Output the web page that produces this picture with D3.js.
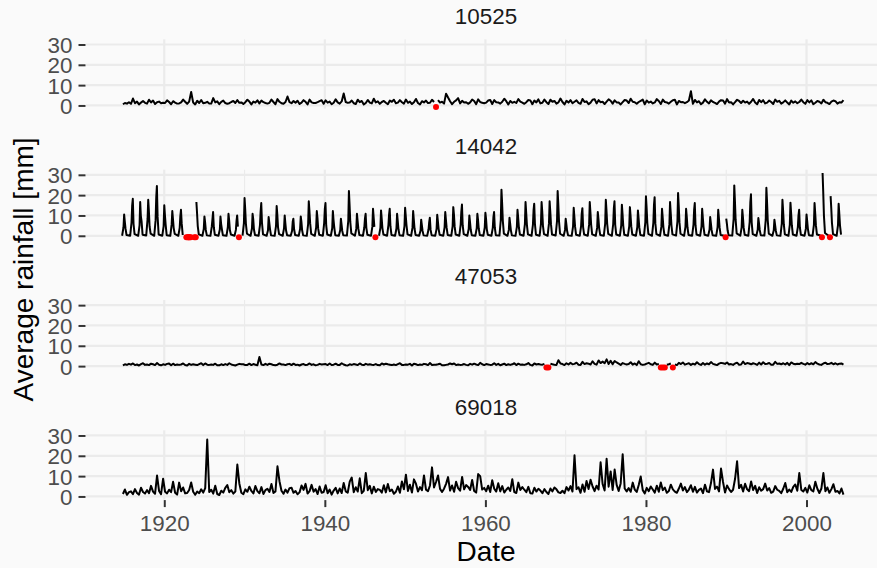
<!DOCTYPE html>
<html lang="en">
<head>
<meta charset="UTF-8">
<title>Average rainfall by station</title>
<script src="https://d3js.org/d3.v7.min.js"></script>
<style>
  body { margin: 0; background: #fafafa; }
  svg { display: block; font-family: "Liberation Sans", Arial, sans-serif; }
</style>
</head>
<body>
<div id="chart"></div>
<script>
// stations shown as facets, top to bottom
const stations = ["10525", "14042", "47053", "69018"];

// one row per year 1915..2004; null = missing month (drawn as red point at 0)
const firstYear = 1915;

// readings at [Y-0.15, Y+0.1, Y+0.35, Y+0.6]
const rain10525 = [
  [0.6,1.2,0.9,1.6],[0.8,3.4,1.1,1.9],[0.5,1.4,2.2,1.3],[0.9,2.8,1.5,2.4],[0.7,1.6,1.9,1.1],
  [1.3,1.2,2.5,1.7],[0.6,2.1,1.4,0.9],[1,1.5,2.9,1.8],[0.8,1.9,6.6,1.4],[0.5,2.3,1.2,2.7],
  [1.1,1.3,1.8,1],[0.9,3.6,1.5,2],[0.6,1.8,2.4,1.2],[0.8,1.1,1.7,2.2],[1.2,2.6,1.3,1.5],
  [0.7,1.6,2.8,1.9],[0.5,1.9,1.4,2.5],[1,2.4,1.6,1.2],[0.9,1.3,2.9,1.7],[0.6,3.1,1.8,1.1],
  [0.8,1.7,4.4,1.6],[1.1,2.2,1.3,2.3],[0.7,1.4,2.6,1.8],[0.5,2.9,1.5,1.2],[1.2,1.6,2.1,2.6],
  [0.8,2.5,1.4,1.9],[0.6,1.3,3,1.5],[0.9,2,5.9,1.7],[1.3,1.5,2.4,1.1],[0.7,2.8,1.6,2.2],
  [0.5,1.2,2.7,1.4],[1,3.3,1.5,2],[0.8,1.7,2.2,1.3],[0.6,2.4,1.8,2.8],[1.1,1.4,2.6,1.6],
  [0.9,2.9,1.3,1.9],[0.7,1.6,3.2,1.2],[0.5,2.1,1.5,2.4],[1.2,1.3,2.8,1.7],[null,2.6,1.4,1.8],
  [0.9,5.8,3.9,2.1],[0.6,1.8,2.5,3.6],[1,2.3,1.4,1.6],[0.8,1.5,2.9,2.2],[0.6,3,1.7,1.3],
  [1.1,1.4,2.4,2.7],[0.7,2.6,1.6,1.5],[0.9,1.8,3.3,2.1],[0.5,2.2,1.3,1.8],[1.2,3.1,1.9,1.4],
  [0.8,1.6,2.7,2.5],[0.6,2.4,1.5,3],[1,1.3,2.9,1.6],[0.7,2.8,1.8,2.2],[0.9,1.5,3.4,1.7],
  [0.5,2.3,1.4,2.6],[1.1,1.8,2.5,1.3],[0.8,3.2,1.7,2],[0.6,1.4,2.8,3.1],[1,2.6,1.6,1.8],
  [0.7,1.9,3,2.3],[0.9,2.5,1.5,1.4],[0.5,1.6,2.7,2.4],[1.2,3.3,1.8,1.6],[0.8,1.7,2.3,2.9],
  [0.6,2.4,1.4,1.9],[1,1.5,3.1,2.2],[0.7,2.9,1.7,1.5],[0.9,1.8,2.6,2.8],[0.5,2.2,1.6,1.7],
  [1.1,1.6,2.4,7],[0.8,2.7,1.5,2.1],[0.6,1.4,3,1.8],[1,2.5,1.7,1.3],[0.7,1.9,2.6,2.4],
  [0.9,3.1,1.5,1.6],[0.5,1.6,2.8,2.2],[1.2,2.3,1.4,1.9],[0.8,1.8,3.2,1.5],[0.6,2.7,1.6,2.6],
  [1,1.4,2.4,1.7],[0.7,2.9,1.8,2.3],[0.9,1.5,2.5,1.4],[0.5,2.4,1.3,2],[1.1,1.7,2.9,1.6],
  [0.8,2.6,1.5,2.5],[0.6,1.3,2.2,1.8],[1,2.8,1.6,1.3],[0.7,1.9,2.4,2.1],[0.9,1.6,1.4,2.6]
];

// wet season readings at [Oct, Dec, Jan, Feb, Mar, Apr] = [Y-0.25, Y-0.08, Y, Y+0.08, Y+0.17, Y+0.3]
const rain14042 = [
  [0,4.2,10.5,7.1,3.6,0.4],[0,6.5,14.8,18.2,5.9,0.8],[0,5.1,16.6,9.8,7.2,0.5],[0.1,8.3,17.7,12.4,4.6,1.1],[0,7.7,18.9,24.5,9.3,0.6],
  [0,4.8,15,10.2,5.5,0.3],[0,5.6,12.2,8.4,3.9,0.9],[0,3.9,9.6,12.8,6.1,0.4],[null,null,null,null,null,null],[null,null,16.6,11.3,4.8,0.7],
  [0,3.3,9.5,6.8,2.9,0.2],[0,4.6,8.1,11.7,4.2,0.5],[0,3.1,9.5,5.9,3.4,0.3],[0,4.4,10.8,7.6,2.8,0.6],[0,2.9,7.3,10,4.5,null],
  [0.1,6.2,18.6,13.1,5.7,1],[0,3.6,10.8,8.2,3.1,0.4],[0,5.3,11.9,16.1,6.4,0.7],[0,2.7,9.2,6.5,3.3,0.2],[0,4.9,14.6,10.4,4.1,0.8],
  [0,3.8,10,6.3,2.6,0.3],[0,2.5,6.9,8.4,3.2,0.4],[0,3.4,9.5,7,2.7,0.2],[0,5.8,17,12.3,6.2,0.9],[0,4.1,12.2,8.8,3.5,0.5],
  [0,6.4,13.2,16.1,5.1,0.6],[0,3.7,12.2,7.9,4.3,0.3],[0,2.8,8.4,5.6,2.4,0.2],[0.1,7.4,22,15.3,6.8,1.2],[0,3.5,10.8,7.4,3.6,0.4],
  [0,4.2,8.6,10.8,3.9,0.5],[0,4.5,13.3,9.1,4.4,null],[0,3.9,12.5,8.6,3.8,0.6],[0,5.2,10.4,13.3,4.7,0.4],[0,3.6,10.8,7.3,3.2,0.3],
  [0,4.7,13.8,9.7,5.3,0.7],[0,4,12.2,8.1,3.7,0.4],[0,2.6,7.9,5.4,2.5,0.2],[0,3.2,6.7,8.9,3,0.3],[0,3.4,10.3,7.2,3.4,0.5],
  [0,4.3,11.7,8,4,0.4],[0,4.8,14.1,10.6,4.6,0.6],[0,5.5,11.8,15.4,5.2,0.8],[0,3.3,10,6.9,3.1,0.3],[0,3.7,10.8,7.8,3.6,0.4],
  [0,4.1,11.3,8.3,3.3,0.5],[0,3.9,9.2,11.7,4.1,0.3],[0.1,7.9,22.7,16.2,7.4,1.1],[0,2.9,8.9,6.1,2.8,0.2],[0,4.4,12.8,9,4.2,0.6],
  [0,5.7,16.6,11.4,5.4,0.7],[0,5.4,12.6,15.8,5.8,0.5],[0,5.9,16.6,11.9,4.9,0.8],[0,6.1,17,12,5.6,0.6],[0.1,7.2,22,15.6,7.1,1],
  [0,2.9,8.4,5.8,2.6,0.2],[0,4.6,13.8,9.4,4.5,0.5],[0,4.8,10.9,13.6,4.3,0.6],[0,5.6,16.6,11.7,5.5,0.7],[0,4,11.7,8.3,3.8,0.4],
  [0,6,17.7,12.6,5.9,0.9],[0,5.8,13.5,17,5.4,0.6],[0,5.1,15.3,10.8,5,0.5],[0,4.7,14.1,9.9,4.6,0.6],[0,4.2,12.5,8.7,4.1,0.4],
  [0,6.6,19.4,13.8,6.3,0.9],[0,6.3,15.2,19,6.1,0.8],[0,4.5,13.3,9.2,4.3,0.5],[0,5.6,16.6,11.5,5.3,0.7],[0.1,7.1,21,14.9,6.7,1],
  [0,4.4,13.3,9.4,4.2,0.4],[0,5.5,12.8,16.1,5.2,0.6],[0,4.6,13.3,9,4.4,0.5],[0,3.1,9.2,6.4,3,0.3],[0,4.3,12.8,8.9,4.1,0.4],
  [0,null,8.4,6,2.7,0.2],[0.1,8.2,24.8,17.4,7.8,1.2],[0,4.3,12.8,9.1,4,0.5],[0,6.9,16.3,20.4,6.5,0.8],[0,3,8.7,6.2,2.9,0.3],
  [0.1,7.8,23.6,16.8,7.5,1.1],[0,2.7,7.9,5.5,2.6,0.2],[0,6,17.7,12.5,5.7,0.7],[0,5.5,16.3,11.3,5.2,0.6],[0,4.3,10.1,12.8,4.2,0.5],
  [0,3.5,10.5,7.4,3.4,0.3],[0,5.4,16.1,11.2,5.1,0.6],[0.1,null,30.9,21.6,9.8,1.4],[0,null,19.5,13.7,6.2,0.8],[0,5.3,15.8,11,5,0.6]
];

// readings at [Y-0.15, Y+0.1, Y+0.35, Y+0.6]
const rain47053 = [
  [0.4,0.9,0.6,1.1],[0.7,1.3,0.5,0.8],[0.3,1,1.4,0.6],[0.8,0.5,1.2,0.9],[0.5,1.5,0.7,0.4],
  [0.9,0.6,1.1,1.3],[0.4,1.2,0.5,0.8],[0.6,0.8,1.3,0.5],[0.3,1.1,0.6,0.9],[0.7,0.5,1,1.4],
  [0.5,1.3,0.7,0.6],[0.8,0.6,1.2,0.4],[0.4,0.9,0.5,1],[0.6,1.4,0.8,0.5],[0.3,0.7,1.1,0.9],
  [0.9,0.5,0.6,1.2],[0.5,1,0.7,0.4],[4.5,0.8,0.5,1.1],[0.6,1.2,0.9,0.5],[0.4,0.7,1.3,0.8],
  [0.8,0.5,0.9,1.1],[0.5,1.2,0.6,0.7],[0.3,0.8,1,0.5],[0.7,1.3,0.6,0.9],[0.4,0.6,1.1,0.8],
  [0.9,1,0.5,1.3],[0.5,0.7,1.2,0.6],[0.6,1.4,0.8,0.4],[0.3,0.9,0.6,1],[0.8,0.5,1.3,0.7],
  [0.5,1.1,0.7,0.9],[0.7,0.6,1,0.5],[0.4,1.3,0.8,1.2],[0.9,0.7,0.5,0.8],[0.5,1,1.4,0.6],
  [0.6,0.8,0.7,1.1],[0.3,1.2,0.9,0.5],[0.8,0.6,1.1,0.9],[0.5,1.5,0.6,0.7],[0.7,0.9,1.2,0.4],
  [0.4,0.6,0.8,1.3],[0.9,1.3,0.5,0.8],[0.6,0.7,1,0.6],[0.4,1.1,0.7,1.2],[0.8,0.5,1.6,0.9],
  [0.5,1,0.8,0.6],[0.7,1.4,0.6,1.1],[0.4,0.8,1.2,0.5],[0.9,0.6,0.9,1.4],[0.5,1.2,0.7,0.8],
  [0.6,0.9,1.5,0.6],[0.3,1.3,0.8,1],[0.8,0.7,1.1,null],[null,1.2,0.9,0.7],[0.6,2.9,1.3,1],
  [0.5,1.4,0.8,1.6],[0.9,1.1,1.7,0.7],[0.6,2.1,1,1.4],[1.2,0.8,2.4,1.1],[0.7,2.8,1.5,2.2],
  [1.4,3.3,1,2.6],[0.9,2.5,1.8,1.2],[0.6,1.5,1.1,0.8],[1,1.9,0.7,1.3],[0.5,2.4,0.9,0.6],
  [0.8,1.2,1.6,0.9],[0.6,1.7,0.8,1],[null,null,null,0.7],[0.9,1.3,null,0.8],[0.5,1.6,1,1.8],
  [0.7,1.1,1.4,0.6],[1.2,0.8,1.9,1],[0.6,1.5,0.7,1.3],[0.9,2,1.1,0.8],[0.5,1.2,1.6,1.4],
  [1.1,1.8,0.8,1],[0.6,1.3,1.7,0.7],[0.8,2.2,1,1.5],[1.3,0.9,1.4,1.1],[0.6,1.7,0.8,1.9],
  [1,1.2,1.5,0.7],[0.7,2.1,1.1,1.3],[0.9,1.4,0.8,1.6],[0.5,1.8,1.2,0.9],[1.2,1,1.6,1.1],
  [0.7,1.5,0.9,1.4],[0.9,2,1.2,0.8],[0.6,1.3,1.7,1],[1.1,1.6,0.9,1.4],[0.8,1.2,1.3,0.7]
];

// readings at [Y-0.15, Y+0.1, Y+0.35, Y+0.6]
const rain69018 = [
  [1.2,3.4,0.8,2.1],[2.5,1.1,3.6,1.7],[0.9,4.3,2.2,1.4],[3.1,1.6,5.2,2.4],[1.3,10.3,2.7,1.1],
  [8.7,2.3,1.5,3.3],[2.1,7.2,1.8,0.9],[6.8,2.6,4.4,1.5],[1.7,3.2,6.9,2.3],[0.8,2.4,1.6,3.5],
  [1.9,4.1,28,2.2],[3.3,1.4,5.3,1.2],[0.7,2.8,1.9,4.2],[5.6,2.1,3.1,1.4],[2.4,15.7,6.4,1.8],
  [1.1,3.5,2.3,4.8],[2.7,1.5,5.1,2.6],[1.6,4.6,1.2,3.1],[3.8,2.2,6.1,1.7],[2.5,14.8,7.5,2.8],
  [1.3,3.4,1.9,4.1],[4.3,1.8,2.7,1.1],[2,5.4,3.2,6.2],[1.4,2.6,5.7,2.3],[3.6,1.2,4.9,1.8],
  [2.2,5.5,1.6,3.4],[0.9,2.9,4.2,1.5],[3.9,1.7,6.6,2.5],[1.8,7.3,9.3,2.1],[4.5,2.4,8.9,1.6],
  [2.7,11.5,3.1,5.2],[1.5,4.8,2.2,3.6],[3.2,1.9,5.5,2],[6.1,2.6,3.4,1.3],[2.3,4.9,1.8,7.4],
  [3.5,10.7,2.7,5.8],[1.9,8.4,6.3,2.4],[4.6,3.1,10.3,3.3],[2.6,5.4,14.3,4.4],[7.1,10.3,3.7,2.2],
  [3.8,6.2,9.5,2.9],[5.4,2.3,7.2,4.1],[2.8,9.6,3.5,5.6],[4.7,3.2,8.1,2.7],[1.9,11,10,3.4],
  [4.2,2.6,5.3,2.2],[8,3.8,2.4,6.5],[2.5,5.1,1.9,3.3],[4.4,2.7,8.5,2.1],[1.7,6.8,3.2,4.6],
  [3.3,2.1,4.7,1.6],[1.4,4.3,2.4,3.8],[2.9,1.6,3.6,2.2],[1.2,3.9,2.5,4.4],[3.5,2,1.7,2.8],
  [1.6,4.6,2.9,5.1],[2.4,20.3,3.6,4.5],[1.8,5.9,2.3,7.6],[3.7,8.2,4.9,2.6],[5.3,3.4,16.8,6.2],
  [2.9,18.5,4.8,12.3],[3.2,13.2,5.7,2.7],[6.4,20.7,3.9,2.5],[4.1,2.3,6.8,3.4],[2.2,5.6,9.8,3.1],
  [1.5,4.2,2.6,4.9],[3.4,1.9,5.3,2.3],[6.9,3.1,4.4,1.8],[2.7,5.8,3.5,2.4],[1.8,3.9,6.3,2.9],
  [4.6,2.1,3.4,5.5],[2.3,4.7,1.9,3.2],[3.9,1.6,5.8,2.5],[2.1,6.6,13.2,3.7],[4.8,2.5,13.7,7.1],
  [1.9,5.4,3.6,2.2],[3.3,8.7,17.3,4.1],[5.7,2.4,6.2,3.5],[2.6,7.4,3.1,5.2],[1.7,4.5,2.8,3.6],
  [6.3,2.9,4.1,1.8],[2.4,5.1,3.3,2.7],[1.6,3.8,6.6,2.1],[3.4,2.2,4.7,5.9],[2.8,11.5,3.2,2.4],
  [4.2,1.9,5.5,3.1],[2.5,7.2,3.8,1.7],[3.9,11.5,2.6,4.4],[1.8,3.6,6,2.3],[2.7,1.5,3.9,0.9]
];

const rainByStation = [rain10525, rain14042, rain47053, rain69018];
const quarterOffsets = [-0.15, 0.1, 0.35, 0.6];
const wetOffsets = [-0.25, -0.08, 0, 0.08, 0.17, 0.3];
const offsetsByStation = [quarterOffsets, wetOffsets, quarterOffsets, quarterOffsets];

const xTicks = [1920, 1940, 1960, 1980, 2000];
const xMinor = [1930, 1950, 1970, 1990];
const yTicks = [0, 10, 20, 30];

// layout
const W = 877, H = 568;
const panelLeft = 86, panelRight = 886;
const panelTop0 = 39.3, panelStep = 130.33, panelH = 69.3;
const font = '"Liberation Sans", Arial, sans-serif';

const svg = d3.select("#chart").append("svg")
    .attr("width", W)
    .attr("height", H);

svg.append("rect").attr("width", W).attr("height", H).attr("fill", "#fafafa");

const x = d3.scaleLinear()
    .domain([1910.25, 2009.9])
    .range([panelLeft, panelRight]);

stations.forEach(function(id, i) {
    const top = panelTop0 + i * panelStep;
    const y = d3.scaleLinear()
        .domain([-1.55, 32.55])
        .range([top + panelH, top]);

    const offs = offsetsByStation[i];
    const series = [];
    rainByStation[i].forEach(function(row, r) {
        row.forEach(function(v, q) {
            series.push({ t: firstYear + r + offs[q], v: v });
        });
    });

    const g = svg.append("g");

    // grid
    g.selectAll(".minor").data(xMinor).enter().append("line")
        .attr("x1", d => x(d)).attr("x2", d => x(d))
        .attr("y1", top).attr("y2", top + panelH)
        .attr("stroke", "#ebebeb").attr("stroke-width", 1.1);
    g.selectAll(".major").data(xTicks).enter().append("line")
        .attr("x1", d => x(d)).attr("x2", d => x(d))
        .attr("y1", top).attr("y2", top + panelH)
        .attr("stroke", "#ebebeb").attr("stroke-width", 2.2);
    g.selectAll(".hgrid").data(yTicks).enter().append("line")
        .attr("x1", panelLeft).attr("x2", panelRight)
        .attr("y1", d => y(d)).attr("y2", d => y(d))
        .attr("stroke", "#ebebeb").attr("stroke-width", 2.2);

    // y axis
    const yAxis = d3.axisLeft(y).tickValues(yTicks).tickSize(7).tickPadding(6);
    const ya = g.append("g").attr("transform", "translate(" + (panelLeft - 0.5) + ",0)").call(yAxis);
    ya.select(".domain").remove();
    ya.selectAll("line").attr("stroke", "#333333").attr("stroke-width", 2);
    ya.selectAll("text").attr("fill", "#4d4d4d").style("font-size", "22.4px").style("font-family", font)
        .attr("dy", "0.36em");

    // strip title
    g.append("text")
        .attr("x", (panelLeft + panelRight) / 2)
        .attr("y", top - 15.5)
        .attr("text-anchor", "middle")
        .attr("fill", "#1a1a1a")
        .style("font-size", "22.4px")
        .style("font-family", font)
        .text(id);

    // rainfall line
    const line = d3.line()
        .defined(d => d.v !== null)
        .x(d => x(d.t))
        .y(d => y(d.v));
    g.append("path")
        .datum(series)
        .attr("d", line)
        .attr("fill", "none")
        .attr("stroke", "black")
        .attr("stroke-width", 2)
        .attr("stroke-linejoin", "round");

    // missing months
    g.selectAll(".missing").data(series.filter(d => d.v === null)).enter().append("circle")
        .attr("cx", d => x(d.t))
        .attr("cy", y(0) + 1.5)
        .attr("r", 3)
        .attr("fill", "red");

    // x axis on the last panel
    if (i === stations.length - 1) {
        const xAxis = d3.axisBottom(x).tickValues(xTicks).tickFormat(d3.format("d")).tickSize(7).tickPadding(8);
        const xa = g.append("g").attr("transform", "translate(0," + (top + panelH + 0.5) + ")").call(xAxis);
        xa.select(".domain").remove();
        xa.selectAll("line").attr("stroke", "#333333").attr("stroke-width", 2);
        xa.selectAll("text").attr("fill", "#4d4d4d").style("font-size", "22.4px").style("font-family", font);
    }
});

// axis titles
svg.append("text")
    .attr("x", (panelLeft + panelRight) / 2)
    .attr("y", 561)
    .attr("text-anchor", "middle")
    .attr("fill", "black")
    .style("font-size", "28px")
    .style("font-family", font)
    .text("Date");

svg.append("text")
    .attr("transform", "translate(33," + (panelTop0 + (3 * panelStep + panelH) / 2) + ") rotate(-90)")
    .attr("text-anchor", "middle")
    .attr("fill", "black")
    .style("font-size", "28px")
    .style("font-family", font)
    .text("Average rainfall [mm]");
</script>
</body>
</html>
